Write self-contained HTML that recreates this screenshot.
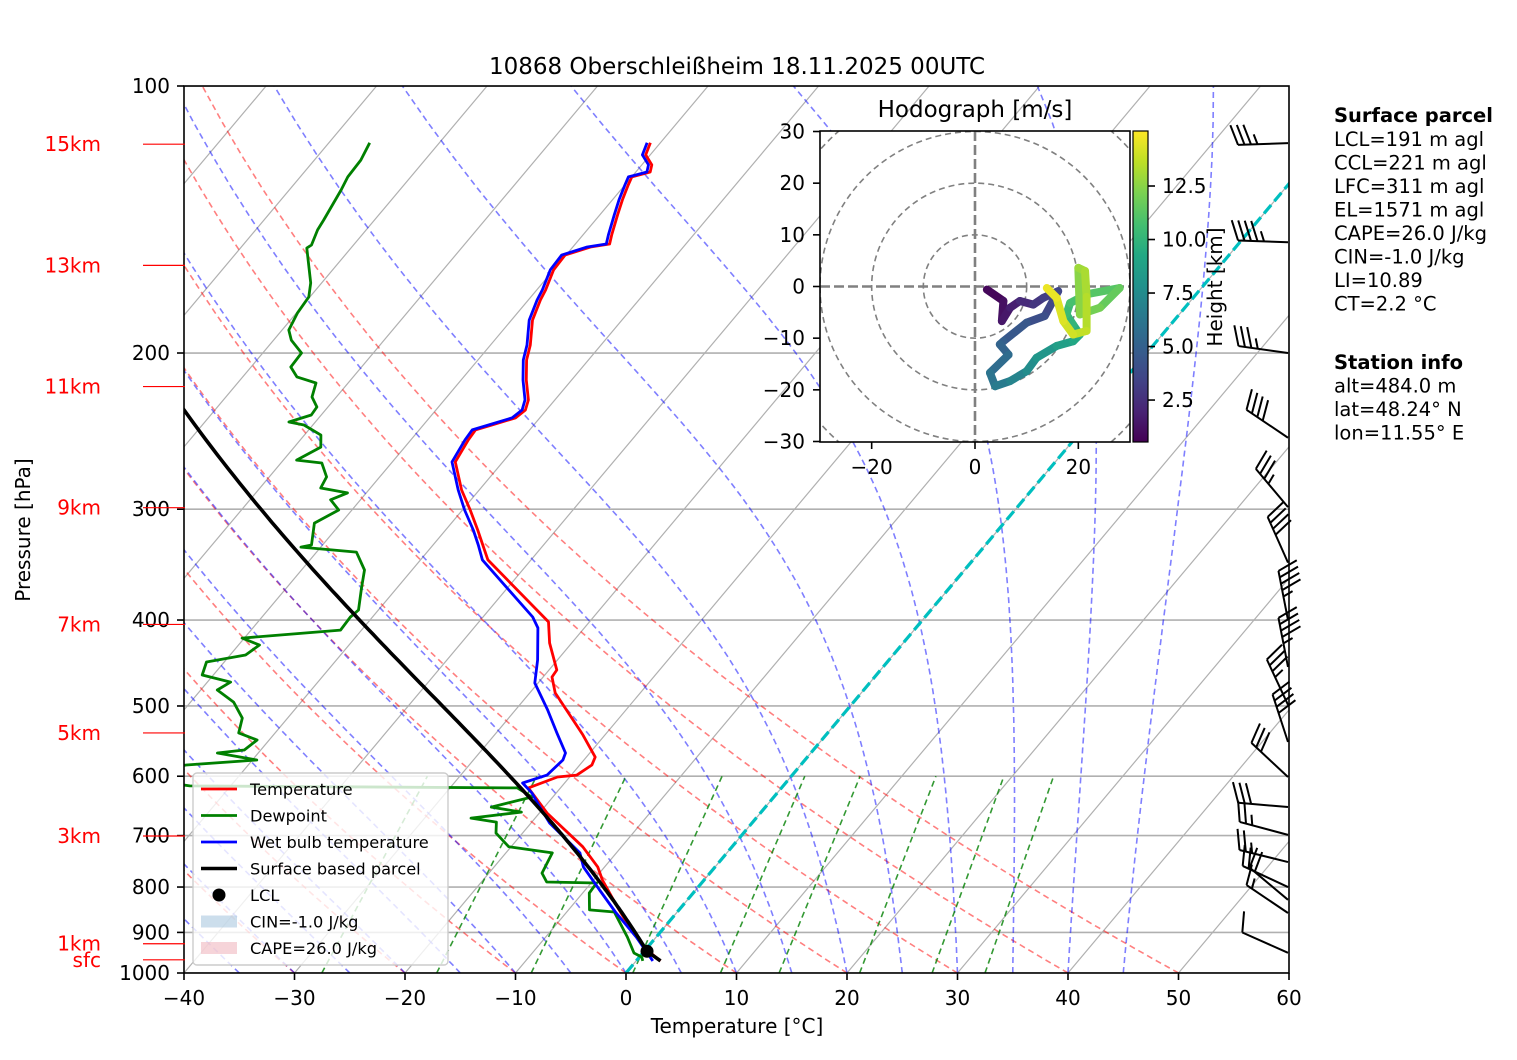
<!DOCTYPE html>
<html><head><meta charset="utf-8"><title>Skew-T 10868</title>
<style>
html,body{margin:0;padding:0;background:#fff;}
svg{display:block;font-family:"DejaVu Sans","Liberation Sans",sans-serif;}
</style></head>
<body>
<svg id="chart" width="1517" height="1060" viewBox="0 0 1517 1060" xmlns="http://www.w3.org/2000/svg">
<defs>
<clipPath id="plotClip"><rect x="184" y="86" width="1105" height="887"/></clipPath>
<clipPath id="hodoClip"><rect x="820" y="131" width="310" height="311"/></clipPath>
<linearGradient id="viridis" x1="0" y1="1" x2="0" y2="0">
<stop offset="0" stop-color="#440154"/><stop offset="0.1" stop-color="#482475"/><stop offset="0.2" stop-color="#414487"/><stop offset="0.3" stop-color="#355f8d"/><stop offset="0.4" stop-color="#2a788e"/><stop offset="0.5" stop-color="#21918c"/><stop offset="0.6" stop-color="#22a884"/><stop offset="0.7" stop-color="#44bf70"/><stop offset="0.8" stop-color="#7ad151"/><stop offset="0.9" stop-color="#bddf26"/><stop offset="1" stop-color="#fde725"/>
</linearGradient>
</defs>
<rect x="0" y="0" width="1517" height="1060" fill="#fff"/>
<text x="737" y="74" font-size="23" text-anchor="middle">10868 Oberschleißheim 18.11.2025 00UTC</text>
<g id="bgLines" clip-path="url(#plotClip)"></g>
<g id="profiles" clip-path="url(#plotClip)"></g>
<g id="axes"></g>
<g id="barbs"></g>
<g id="legend"></g>
<g id="hodo"></g>
<g id="info">
<text x="1334" y="122" font-size="19.5" font-weight="bold">Surface parcel</text>
<text x="1334" y="146" font-size="19.5">LCL=191 m agl</text>
<text x="1334" y="169.5" font-size="19.5">CCL=221 m agl</text>
<text x="1334" y="193" font-size="19.5">LFC=311 m agl</text>
<text x="1334" y="216.5" font-size="19.5">EL=1571 m agl</text>
<text x="1334" y="240" font-size="19.5">CAPE=26.0 J/kg</text>
<text x="1334" y="263.5" font-size="19.5">CIN=-1.0 J/kg</text>
<text x="1334" y="287" font-size="19.5">LI=10.89</text>
<text x="1334" y="310.5" font-size="19.5">CT=2.2 °C</text>
<text x="1334" y="369" font-size="19.5" font-weight="bold">Station info</text>
<text x="1334" y="392.5" font-size="19.5">alt=484.0 m</text>
<text x="1334" y="416" font-size="19.5">lat=48.24° N</text>
<text x="1334" y="439.5" font-size="19.5">lon=11.55° E</text>
</g>
</svg>
<script>
// ---------- data ----------
const tempP = [969,934.8,878.2,842.5,785.6,759.6,720.7,660.2,618.5,601.2,598.2,582.8,570.9,539.0,483.3,463.7,455.4,424.6,402.0,342.2,329.2,316.6,300.6,285.4,265.3,250.6,244.2,241.1,236.7,231.9,225.9,214.5,203.6,195.9,183.6,174.3,169.8,161.2,155.1,151.9,150.7,147.2,139.7,134.4,129.3,126.6,125.0,122.7,119.6,115.9];
const tempT = [2.2,-0.4,-3.7,-5.8,-9.2,-10.6,-13.5,-19.3,-22.9,-21.1,-19.5,-18.9,-19.2,-22.0,-27.7,-29.2,-29.3,-32.0,-33.7,-43.9,-45.5,-47.1,-49.3,-51.6,-54.3,-54.8,-54.9,-53.8,-52.2,-51.9,-52.4,-54.1,-55.6,-56.4,-58.1,-58.9,-59.2,-60.0,-60.1,-58.4,-56.9,-57.4,-58.4,-59.1,-59.7,-60.0,-58.7,-59.1,-60.4,-60.9];
const wetP = [969,911.0,853.5,806.1,759.6,732.1,677.6,650.1,626.6,610.6,598.2,575.3,564.9,536.2,505.1,471.0,443.7,408.3,396.9,342.2,329.2,316.6,300.6,285.4,265.3,250.6,244.2,241.1,236.7,231.9,225.9,214.5,203.6,195.9,183.6,174.3,169.8,161.2,155.1,151.9,150.7,147.2,139.7,134.4,129.3,126.6,125.0,122.7,119.6,115.9];
const wetT = [1.5,-1.8,-5.6,-8.7,-11.9,-13.3,-18.3,-20.4,-22.2,-23.8,-22.2,-21.9,-22.2,-24.5,-27.1,-30.3,-31.8,-34.2,-35.5,-44.4,-45.9,-47.5,-49.8,-51.9,-54.6,-55.1,-55.2,-54.1,-52.5,-52.2,-52.7,-54.4,-55.9,-56.7,-58.4,-59.2,-59.5,-60.3,-60.4,-58.7,-57.2,-57.7,-58.7,-59.4,-60.0,-60.3,-59.0,-59.4,-60.7,-61.2];
const dewP = [969,959.3,949.4,911.0,853.5,849.0,812.5,791.6,789.5,771.5,732.1,720.7,695.4,675.9,668.9,658.5,650.1,633.2,618.5,615.3,599.7,582.8,575.3,564.9,560.5,546.1,536.2,516.0,495.0,479.7,469.9,461.4,446.1,438.0,426.8,419.2,410.6,396.9,389.8,368.1,351.3,335.3,331.0,329.2,311.0,300.6,292.8,287.6,283.9,275.9,266.1,264.1,255.3,247.5,241.1,239.2,234.9,230.1,224.2,216.2,212.8,207.4,200.0,193.4,188.4,180.3,172.9,166.7,152.3,151.1,145.3,141.6,131.0,126.6,121.2,115.9];
const dewT = [0.6,0.2,-0.8,-2.6,-5.7,-8.1,-9.4,-9.5,-14.1,-15.2,-15.8,-20.2,-22.4,-23.2,-25.8,-21.7,-24.8,-21.9,-23.9,-53.7,-60.8,-55.6,-49.6,-53.7,-51.5,-51.1,-53.3,-54.1,-56.1,-58.5,-57.9,-61.0,-61.6,-58.6,-58.1,-60.2,-51.9,-52.0,-51.8,-53.2,-54.3,-56.4,-61.8,-61.0,-62.4,-61.2,-62.7,-61.7,-64.5,-64.8,-66.3,-68.8,-67.6,-68.5,-70.8,-72.4,-70.9,-71.0,-72.2,-72.9,-75.1,-76.4,-76.5,-78.4,-79.4,-79.9,-80.1,-81.0,-84.0,-83.8,-84.4,-84.6,-85.3,-85.7,-85.8,-86.3];
const parcelStart = [969, 2.2, 0.6]; // p, T, Td of surface parcel
const heightLabels = ["15km","13km","11km","9km","7km","5km","3km","1km","sfc"];
const heightP = [116.3,159.3,218.2,298.8,404.6,536.2,700.7,926.8,966.3];
const xTicks = [-40,-30,-20,-10,0,10,20,30,40,50,60];
const yTicks = [100,200,300,400,500,600,700,800,900,1000];
const hodoU = [2.3,5.5,5.2,6.8,8.7,11.3,13.2,16.1,13.5,10,5.5,4.8,6.5,2.9,3.9,6.8,10,11.9,15.8,19,20.3,19,17.7,18.4,21.6,28,24.2,20.3,20,21.3,21.6,21.6,19,17.1,15.8,13.9];
const hodoV = [-0.6,-2.8,-6.7,-4.1,-2.8,-3.5,-2.2,-0.9,-5.7,-7,-10.6,-11.2,-13.2,-16.7,-19.3,-18.3,-16.4,-13.8,-11.5,-10.6,-9.3,-7.4,-5.4,-3.2,-1.5,-0.3,-4.1,-5.4,3.6,3,-2,-8.6,-9.3,-6.7,-2.2,-0.3];
const hodoH = [0.6,1.0,1.3,1.6,2.0,2.6,3.0,3.4,3.8,4.2,4.8,5.0,5.4,5.9,6.3,6.8,7.3,7.8,8.4,9.0,9.4,9.8,10.2,10.6,11.0,11.4,11.8,12.2,12.8,13.1,13.3,13.6,13.9,14.2,14.5,14.8];
const hodoTicksX = [-20,0,20];
const hodoTicksY = [30,20,10,0,-10,-20,-30];
const cbTicks = [2.5,5.0,7.5,10.0,12.5];
const barbP = [116,150,200,249.2,298.4,344.6,400,451.8,498.5,549,601.2,650,698.7,749.8,800,827,855.8,949];
const barbSpd = [35,45,35,40,35,40,45,45,35,40,30,30,25,25,20,20,15,10];
const barbDir = [268,272,278,304,320,336,349,349,335,342,313,275,285,284,295,310,304,294];

// ---------- scales ----------
const X0=184, X1=1289, Y0=86, Y1=973, PX=11.05, SKEW=0.84;
function yP(p){ return Y1 - 887*Math.log10(1000/p); }
function xT(T,p){ return X0 + (T+40)*PX + SKEW*(Y1 - yP(p)); }
const NS='http://www.w3.org/2000/svg';
function mk(tag, attrs, parent){ const e=document.createElementNS(NS,tag); for(const k in attrs) e.setAttribute(k,attrs[k]); parent.appendChild(e); return e; }
function ptsStr(ps,ts){ return ps.map((p,i)=>xT(ts[i],p).toFixed(1)+','+yP(p).toFixed(1)).join(' '); }

// thermo
const Rd=287.04, Cp=1005.7, Lv=2.501e6, EPS=0.622;
function es(Tc){ return 6.112*Math.exp(17.67*Tc/(Tc+243.5)); }
function moistProfile(T0,p0,pEnd,step){
  const ps=[p0], ts=[T0]; let T=T0+273.15, p=p0;
  while(p>pEnd+0.01){
    const pn=Math.max(pEnd,p-step);
    const f=(TK,pp)=>{ const e=es(TK-273.15); const rs=EPS*e/(pp-e); return (Rd*TK+Lv*rs)/(Cp+Lv*Lv*rs*EPS/(Rd*TK*TK)); };
    const h=Math.log(pn/p);
    const k1=f(T,p), k2=f(T+0.5*h*k1,p*Math.exp(0.5*h)), k3=f(T+0.5*h*k2,p*Math.exp(0.5*h)), k4=f(T+h*k3,pn);
    T+=h*(k1+2*k2+2*k3+k4)/6; p=pn; ps.push(p); ts.push(T-273.15);
  }
  return [ps,ts];
}

const bg=document.getElementById('bgLines');
yTicks.forEach(p=>{
  const l=mk('line',{x1:X0,x2:X1,y1:yP(p),y2:yP(p),stroke:'#b0b0b0','stroke-width':1.6},bg);
  
  
});
for(let T=-160;T<=60;T+=10){
  const l=mk('line',{x1:xT(T,1000),y1:yP(1000),x2:xT(T,100),y2:yP(100),stroke:'#b0b0b0','stroke-width':1.2},bg);
  
  
}
const pLev=[]; for(let p=1000;p>=100;p-=10) pLev.push(p);
for(let th=-40;th<=50;th+=10){
  const ts=pLev.map(p=>(th+273.15)*Math.pow(p/1000,0.2857)-273.15);
  const l=mk('polyline',{points:ptsStr(pLev,ts),fill:'none',stroke:'#ff0000','stroke-opacity':0.5,'stroke-width':1.6,'stroke-dasharray':'6,4'},bg);
  
  
}
for(let t0=-40;t0<=45;t0+=5){
  const [ps,ts]=moistProfile(t0,1000,100,10);
  const l=mk('polyline',{points:ptsStr(ps,ts),fill:'none',stroke:'#0000ff','stroke-opacity':0.5,'stroke-width':1.6,'stroke-dasharray':'6,4'},bg);
  
  
}
[0.0004,0.001,0.002,0.004,0.007,0.01,0.016,0.024,0.032].forEach(w=>{
  const ps=[1000,600], ts=ps.map(p=>{ const e=p*w/(EPS+w); const l=Math.log(e/6.112); return 243.5*l/(17.67-l); });
  const l=mk('polyline',{points:ptsStr(ps,ts),fill:'none',stroke:'#008000','stroke-opacity':0.8,'stroke-width':1.6,'stroke-dasharray':'6,4'},bg);
  
  
});
const zi=mk('line',{x1:xT(0,1000),y1:yP(1000),x2:xT(0,100),y2:yP(100),stroke:'#00bfbf','stroke-width':3.2,'stroke-dasharray':'11,5'},bg);



// ---------- profiles ----------
const pr=document.getElementById('profiles');
const [p0,t0,td0]=parcelStart;
const TK=t0+273.15, TdK=td0+273.15;
const TL=1/(1/(TdK-56)+Math.log(TK/TdK)/800)+56;
const pLCL=p0*Math.pow(TL/TK,1/0.2857);
const dryP=[p0,pLCL], dryT=[t0,TL-273.15];
const [mp,mt]=moistProfile(TL-273.15,pLCL,100,5);
const parcelP=dryP.concat(mp.slice(1)), parcelT=dryT.concat(mt.slice(1));
const capeShade=mk('polygon',{points:ptsStr([tempP[0],tempP[1],tempP[2],pLCL],[tempT[0],tempT[1],tempT[2],TL-273.15]),fill:'#d62728','fill-opacity':0.15},pr);


const dl=mk('polyline',{points:ptsStr(dewP,dewT),fill:'none',stroke:'#008000','stroke-width':2.8,'stroke-linejoin':'round'},pr);


const tl=mk('polyline',{points:ptsStr(tempP,tempT),fill:'none',stroke:'#ff0000','stroke-width':2.8,'stroke-linejoin':'round'},pr);


const wl=mk('polyline',{points:ptsStr(wetP,wetT),fill:'none',stroke:'#0000ff','stroke-width':2.8,'stroke-linejoin':'round'},pr);


const pl=mk('polyline',{points:ptsStr(parcelP,parcelT),fill:'none',stroke:'#000','stroke-width':3.6},pr);


const lcl=mk('circle',{cx:xT(TL-273.15,pLCL),cy:yP(pLCL),r:6.5,fill:'#000'},pr);



// ---------- axes ----------
const ax=document.getElementById('axes');
const fr=mk('rect',{x:X0,y:Y0,width:X1-X0,height:Y1-Y0,fill:'none',stroke:'#000','stroke-width':1.6},ax);


xTicks.forEach(T=>{
  const x=X0+(T+40)*PX;
  mk('line',{x1:x,x2:x,y1:Y1,y2:Y1+7,stroke:'#000','stroke-width':1.6},ax);
  const t=mk('text',{x:x,y:1005,'font-size':20,'text-anchor':'middle'},ax);
  t.textContent=(T<0?'\u2212':'')+Math.abs(T);
  
  
});
yTicks.forEach(p=>{
  const y=yP(p);
  mk('line',{x1:X0-7,x2:X0,y1:y,y2:y,stroke:'#000','stroke-width':1.6},ax);
  const t=mk('text',{x:170,y:y+7,'font-size':20,'text-anchor':'end'},ax);
  t.textContent=p;
  
  
});
heightLabels.forEach((s,i)=>{
  const y=yP(heightP[i]);
  mk('line',{x1:143,x2:185,y1:y,y2:y,stroke:'#ff0000','stroke-width':1.2},ax);
  const t=mk('text',{x:101,y:y+7,'font-size':20,'text-anchor':'end',fill:'#ff0000'},ax);
  t.textContent=s;
  
  
});
const xl=mk('text',{x:737,y:1033,'font-size':20,'text-anchor':'middle'},ax);
xl.textContent='Temperature [°C]';


const yl=mk('text',{x:0,y:0,'font-size':20,'text-anchor':'middle',transform:'translate(30,530) rotate(-90)'},ax);
yl.textContent='Pressure [hPa]';



// ---------- barbs ----------
const bb=document.getElementById('barbs');
barbP.forEach((p,i)=>{
  const g=mk('g',{stroke:'#000','stroke-width':2,fill:'none'},bb);
  
  
  const th=barbDir[i]*Math.PI/180;
  const dx=Math.sin(th), dy=-Math.cos(th);
  const bx=1288, by=yP(p), L=50;
  const tx=bx+dx*L, ty=by+dy*L;
  mk('line',{x1:bx,y1:by,x2:tx,y2:ty},g);
  const nx=-dy, ny=dx;
  let s=Math.round(barbSpd[i]/5)*5, k=0;
  const full=Math.floor(s/10), half=(s%10)>=5?1:0;
  for(let j=0;j<full;j++){
    const px=tx-dx*k*6.5, py=ty-dy*k*6.5;
    mk('line',{x1:px,y1:py,x2:px+nx*20+dx*7,y2:py+ny*20+dy*7},g); k++;
  }
  if(half){ if(k===0) k=1; const px=tx-dx*k*6.5, py=ty-dy*k*6.5;
    mk('line',{x1:px,y1:py,x2:px+nx*10+dx*3.5,y2:py+ny*10+dy*3.5},g); }
});

// ---------- legend ----------
const lg=document.getElementById('legend');
const lb=mk('rect',{x:193,y:773,width:255,height:192,rx:4,fill:'#fff','fill-opacity':0.8,stroke:'#cccccc','stroke-width':1.4},lg);


const legItems=[['Temperature','#ff0000','line',2.8],['Dewpoint','#008000','line',2.8],['Wet bulb temperature','#0000ff','line',2.8],['Surface based parcel','#000','line',3.6],['LCL','#000','dot',0],['CIN=-1.0 J/kg','#aac8e0','patch',0],['CAPE=26.0 J/kg','#f0b8c0','patch',0]];
legItems.forEach((it,i)=>{
  const cy=789+i*26.5;
  const g=mk('g',{},lg);
  
  
  if(it[2]==='line') mk('line',{x1:201,x2:237,y1:cy,y2:cy,stroke:it[1],'stroke-width':it[3]},g);
  else if(it[2]==='dot') mk('circle',{cx:219,cy:cy,r:6.5,fill:it[1]},g);
  else mk('rect',{x:201,y:cy-6,width:36,height:12,fill:it[1],'fill-opacity':0.6},g);
  const t=mk('text',{x:250,y:cy+6,'font-size':16.2},g);
  t.textContent=it[0];
});

// ---------- hodograph ----------
const hd=document.getElementById('hodo');
const HX0=820,HX1=1130,HY0=131,HY1=442, HC=[975,286.5], HS=(HX1-HX0)/60;
const hu=u=>HC[0]+u*HS, hv=v=>HC[1]-v*HS;
const hb=mk('rect',{x:HX0,y:HY0,width:HX1-HX0,height:HY1-HY0,fill:'#fff'},hd);


const hin=mk('g',{'clip-path':'url(#hodoClip)'},hd);
[10,20,30,40].forEach(r=>{
  const c=mk('circle',{cx:HC[0],cy:HC[1],r:r*HS,fill:'none',stroke:'#808080','stroke-width':1.6,'stroke-dasharray':'6,4'},hin);
  
  
});
mk('line',{x1:HX0,x2:HX1,y1:HC[1],y2:HC[1],stroke:'#808080','stroke-width':2.6,'stroke-dasharray':'10,4'},hin);
mk('line',{x1:HC[0],x2:HC[0],y1:HY0,y2:HY1,stroke:'#808080','stroke-width':2.6,'stroke-dasharray':'10,4'},hin);
const HMIN=0.54,HMAX=15.07;
const vir=['#440154','#482475','#414487','#355f8d','#2a788e','#21918c','#22a884','#44bf70','#7ad151','#bddf26','#fde725'];
function vcol(h){ let f=(h-HMIN)/(HMAX-HMIN); f=Math.max(0,Math.min(1,f))*10; const i=Math.min(9,Math.floor(f)), t=f-i;
  const a=vir[i], b=vir[i+1]; const c=j=>Math.round(parseInt(a.substr(j,2),16)*(1-t)+parseInt(b.substr(j,2),16)*t);
  return 'rgb('+c(1)+','+c(3)+','+c(5)+')'; }
for(let i=0;i<hodoU.length-1;i++){
  const seg=mk('line',{x1:hu(hodoU[i]),y1:hv(hodoV[i]),x2:hu(hodoU[i+1]),y2:hv(hodoV[i+1]),stroke:vcol((hodoH[i]+hodoH[i+1])/2),'stroke-width':8,'stroke-linecap':'round'},hin);
  
  
}
const hf=mk('rect',{x:HX0,y:HY0,width:HX1-HX0,height:HY1-HY0,fill:'none',stroke:'#000','stroke-width':1.6},hd);


hodoTicksX.forEach(u=>{
  mk('line',{x1:hu(u),x2:hu(u),y1:HY1,y2:HY1+7,stroke:'#000','stroke-width':1.6},hd);
  const t=mk('text',{x:hu(u),y:474,'font-size':20,'text-anchor':'middle'},hd);
  t.textContent=(u<0?'\u2212':'')+Math.abs(u);
  
  
});
hodoTicksY.forEach(v=>{
  mk('line',{x1:HX0-7,x2:HX0,y1:hv(v),y2:hv(v),stroke:'#000','stroke-width':1.6},hd);
  const t=mk('text',{x:805,y:hv(v)+7,'font-size':20,'text-anchor':'end'},hd);
  t.textContent=(v<0?'\u2212':'')+Math.abs(v);
  
  
});
const ht=mk('text',{x:975,y:117,'font-size':23,'text-anchor':'middle'},hd);
ht.textContent='Hodograph [m/s]';


const cb=mk('rect',{x:1133,y:HY0,width:15,height:HY1-HY0,fill:'url(#viridis)',stroke:'#000','stroke-width':1.2},hd);


const cy=h=>HY1-(h-HMIN)/(HMAX-HMIN)*(HY1-HY0);
cbTicks.forEach(h=>{
  mk('line',{x1:1148,x2:1155,y1:cy(h),y2:cy(h),stroke:'#000','stroke-width':1.6},hd);
  const t=mk('text',{x:1162,y:cy(h)+7,'font-size':20},hd);
  t.textContent=h.toFixed(1);
  
  
});
const cl=mk('text',{x:0,y:0,'font-size':20,'text-anchor':'middle',transform:'translate(1222,287) rotate(-90)'},hd);
cl.textContent='Height [km]';


</script>
</body></html>
